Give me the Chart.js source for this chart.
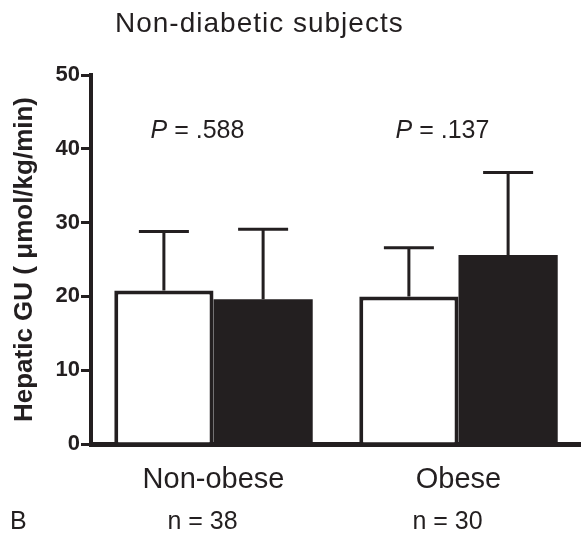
<!DOCTYPE html>
<html>
<head>
<meta charset="utf-8">
<script src="https://cdn.jsdelivr.net/npm/chart.js@4"></script>
<style>
  html, body { margin: 0; padding: 0; background: #fff; }
  #wrap { width: 581px; height: 533px; position: relative; }
</style>
</head>
<body>
<div id="wrap"><canvas id="chart"></canvas></div>
<script>
// Hepatic GU, non-diabetic subjects (panel B)
const categories = ["Non-obese", "Obese"];
const groupN = ["n = 38", "n = 30"];
const pValues = [".588", ".137"];

// open bars / filled bars, mean + SD (upper whisker only)
const openMeans = [20.8, 20.0];
const openSD = [8.0, 6.6];
const filledMeans = [19.6, 25.6];
const filledSD = [9.5, 11.2];

const yTicks = [0, 10, 20, 30, 40, 50];

const INK = "#231f20";
const FONT = "'Liberation Sans', Arial, Helvetica, sans-serif";

// whiskers on top of each bar
const errorBars = {
  id: "errorBars",
  afterDatasetsDraw(chart) {
    const { ctx } = chart;
    const y = chart.scales.y;
    ctx.save();
    ctx.strokeStyle = INK;
    ctx.lineWidth = 3;
    chart.data.datasets.forEach((ds, di) => {
      chart.getDatasetMeta(di).data.forEach((bar, i) => {
        const top = y.getPixelForValue(ds.data[i]);
        const hi = y.getPixelForValue(ds.data[i] + ds.sd[i]);
        ctx.beginPath();
        ctx.moveTo(bar.x, top);
        ctx.lineTo(bar.x, hi);
        ctx.moveTo(bar.x - 25, hi);
        ctx.lineTo(bar.x + 25, hi);
        ctx.stroke();
      });
    });
    ctx.restore();
  },
};

// title, P values, n counts, panel letter
const extraText = {
  id: "extraText",
  afterDraw(chart) {
    const { ctx } = chart;
    const x = chart.scales.x;
    const y = chart.scales.y;
    ctx.save();
    ctx.fillStyle = INK;
    ctx.textBaseline = "alphabetic";

    ctx.font = `28px ${FONT}`;
    ctx.letterSpacing = "1px";
    ctx.textAlign = "left";
    ctx.fillText("Non-diabetic subjects", 115, 32);
    ctx.letterSpacing = "0px";

    const pY = y.getPixelForValue(41.4);
    pValues.forEach((p, i) => {
      const cx = x.getPixelForValue(i) - 16;
      ctx.font = `italic 25px ${FONT}`;
      const wP = ctx.measureText("P").width;
      ctx.font = `25px ${FONT}`;
      const rest = " = " + p;
      const wR = ctx.measureText(rest).width;
      const left = cx - (wP + wR) / 2;
      ctx.textAlign = "left";
      ctx.font = `italic 25px ${FONT}`;
      ctx.fillText("P", left, pY);
      ctx.font = `25px ${FONT}`;
      ctx.fillText(rest, left + wP, pY);
    });

    ctx.font = `25px ${FONT}`;
    ctx.textAlign = "center";
    groupN.forEach((n, i) => {
      ctx.fillText(n, x.getPixelForValue(i) - 11, 529);
    });
    ctx.textAlign = "left";
    ctx.fillText("B", 10, 529);
    ctx.restore();
  },
};

new Chart(document.getElementById("chart"), {
  type: "bar",
  data: {
    labels: categories,
    datasets: [
      {
        label: "open",
        data: openMeans,
        sd: openSD,
        backgroundColor: "#ffffff",
        borderColor: INK,
        borderWidth: 4,
      },
      {
        label: "filled",
        data: filledMeans,
        sd: filledSD,
        backgroundColor: INK,
        borderColor: INK,
        borderWidth: 0,
      },
    ],
  },
  options: {
    responsive: true,
    maintainAspectRatio: false,
    animation: false,
    layout: { padding: { top: 75, left: 0, right: 0, bottom: 0 } },
    datasets: { bar: { categoryPercentage: 0.81, barPercentage: 1 } },
    plugins: {
      legend: { display: false },
      tooltip: { enabled: false },
    },
    scales: {
      x: {
        grid: { display: false, drawTicks: false },
        border: { display: true, color: INK, width: 5 },
        ticks: {
          color: INK,
          padding: 19,
          font: { family: FONT, size: 29 },
        },
        afterFit: (s) => { s.height = 89; },
      },
      y: {
        min: 0,
        max: 50,
        afterBuildTicks: (s) => { s.ticks = yTicks.map((v) => ({ value: v })); },
        grid: {
          drawOnChartArea: false,
          drawTicks: true,
          tickLength: 10,
          lineWidth: 3,
          color: INK,
        },
        border: { display: true, color: INK, width: 4 },
        ticks: {
          color: INK,
          padding: 1,
          font: { family: FONT, size: 22, weight: "bold" },
        },
        title: {
          display: true,
          text: "Hepatic GU ( \u03bcmol/kg/min)",
          color: INK,
          padding: { top: 9, bottom: 0 },
          font: { family: FONT, size: 26, weight: "bold" },
        },
        afterFit: (s) => { s.width = 91; },
      },
    },
  },
  plugins: [errorBars, extraText],
});
</script>
</body>
</html>
